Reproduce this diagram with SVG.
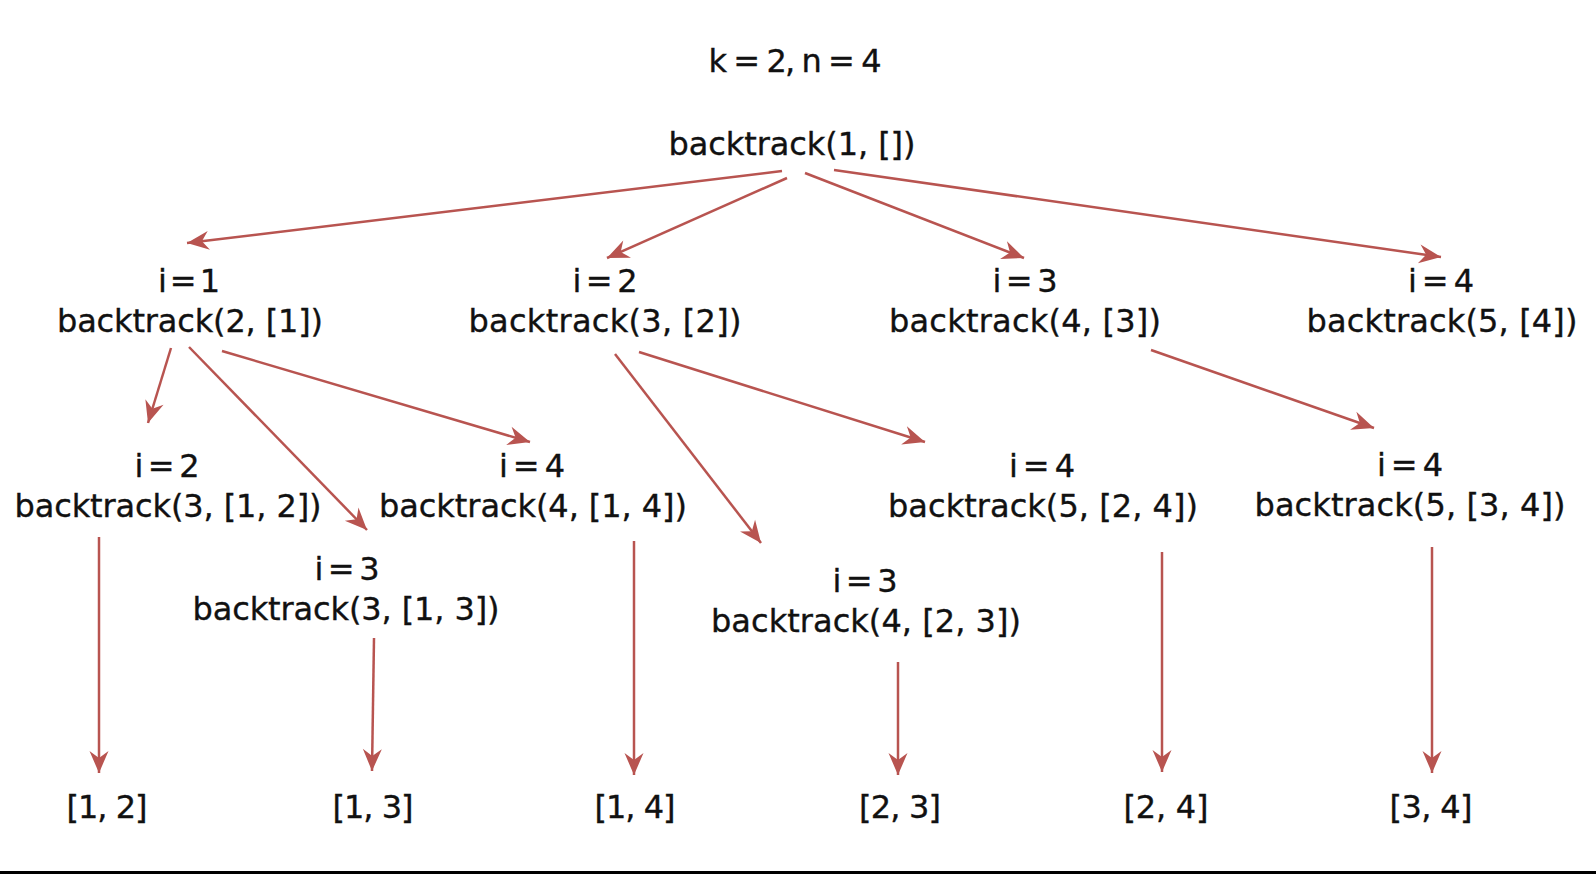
<svg xmlns="http://www.w3.org/2000/svg" width="1596" height="874" viewBox="0 0 1596 874">
<style>
  text { font-family: "DejaVu Sans", "Noto Sans", sans-serif; font-size: 32px; fill: #111; stroke: #111; stroke-width: 0.35; text-anchor: middle; }
  .edge { stroke: #b85450; stroke-width: 2.5; fill: none; marker-end: url(#arrow); }
</style>
<defs>
  <marker id="arrow" markerUnits="userSpaceOnUse" markerWidth="24" markerHeight="22" refX="22" refY="11" orient="auto" overflow="visible">
    <path d="M0,1.5 L22,11 L0,20.5 L7,11 Z" fill="#b85450" stroke="none"/>
  </marker>
</defs>
<rect x="0" y="0" width="1596" height="874" fill="#ffffff"/>
<rect x="0" y="871" width="1596" height="3" fill="#000000"/>

<g id="title"><text x="795" y="72" textLength="173" lengthAdjust="spacing">k = 2, n = 4</text></g>
<g id="root"><text x="792" y="155" textLength="247" lengthAdjust="spacing">backtrack(1, [])</text></g>

<g id="n1">
  <text x="189" y="292" textLength="62" lengthAdjust="spacing">i = 1</text>
  <text x="190" y="332" textLength="266" lengthAdjust="spacing">backtrack(2, [1])</text>
</g>
<g id="n2">
  <text x="605" y="292" textLength="65" lengthAdjust="spacing">i = 2</text>
  <text x="605" y="332" textLength="273" lengthAdjust="spacing">backtrack(3, [2])</text>
</g>
<g id="n3">
  <text x="1025" y="292" textLength="65" lengthAdjust="spacing">i = 3</text>
  <text x="1025" y="332" textLength="272" lengthAdjust="spacing">backtrack(4, [3])</text>
</g>
<g id="n4">
  <text x="1441" y="292" textLength="66" lengthAdjust="spacing">i = 4</text>
  <text x="1442" y="332" textLength="271" lengthAdjust="spacing">backtrack(5, [4])</text>
</g>

<g id="n5">
  <text x="167" y="477" textLength="65" lengthAdjust="spacing">i = 2</text>
  <text x="168" y="517" textLength="307" lengthAdjust="spacing">backtrack(3, [1, 2])</text>
</g>
<g id="n6">
  <text x="347" y="580" textLength="65" lengthAdjust="spacing">i = 3</text>
  <text x="346" y="620" textLength="307" lengthAdjust="spacing">backtrack(3, [1, 3])</text>
</g>
<g id="n7">
  <text x="532" y="477" textLength="66" lengthAdjust="spacing">i = 4</text>
  <text x="533" y="517" textLength="308" lengthAdjust="spacing">backtrack(4, [1, 4])</text>
</g>
<g id="n8">
  <text x="865" y="592" textLength="65" lengthAdjust="spacing">i = 3</text>
  <text x="866" y="632" textLength="310" lengthAdjust="spacing">backtrack(4, [2, 3])</text>
</g>
<g id="n9">
  <text x="1042" y="477" textLength="66" lengthAdjust="spacing">i = 4</text>
  <text x="1043" y="517" textLength="310" lengthAdjust="spacing">backtrack(5, [2, 4])</text>
</g>
<g id="n10">
  <text x="1410" y="476" textLength="66" lengthAdjust="spacing">i = 4</text>
  <text x="1410" y="516" textLength="311" lengthAdjust="spacing">backtrack(5, [3, 4])</text>
</g>

<g id="leaf1"><text x="107" y="818" textLength="81" lengthAdjust="spacing">[1, 2]</text></g>
<g id="leaf2"><text x="373" y="818" textLength="81" lengthAdjust="spacing">[1, 3]</text></g>
<g id="leaf3"><text x="635" y="818" textLength="81" lengthAdjust="spacing">[1, 4]</text></g>
<g id="leaf4"><text x="900" y="818" textLength="82" lengthAdjust="spacing">[2, 3]</text></g>
<g id="leaf5"><text x="1166" y="818" textLength="85" lengthAdjust="spacing">[2, 4]</text></g>
<g id="leaf6"><text x="1431" y="818" textLength="83" lengthAdjust="spacing">[3, 4]</text></g>

<g id="connectors">
  <line class="edge" x1="782" y1="171" x2="187" y2="243"/>
  <line class="edge" x1="787" y1="178" x2="607" y2="258"/>
  <line class="edge" x1="805" y1="173" x2="1024" y2="258"/>
  <line class="edge" x1="834" y1="170" x2="1441" y2="257"/>
  <line class="edge" x1="171" y1="348" x2="148" y2="423"/>
  <line class="edge" x1="189" y1="347" x2="367" y2="530"/>
  <line class="edge" x1="222" y1="351" x2="530" y2="442"/>
  <line class="edge" x1="615" y1="354" x2="761" y2="543"/>
  <line class="edge" x1="639" y1="352" x2="925" y2="442"/>
  <line class="edge" x1="1151" y1="350" x2="1374" y2="428"/>
  <line class="edge" x1="99" y1="537" x2="99" y2="773"/>
  <line class="edge" x1="374" y1="638" x2="372" y2="771"/>
  <line class="edge" x1="634" y1="541" x2="634" y2="775"/>
  <line class="edge" x1="898" y1="662" x2="898" y2="775"/>
  <line class="edge" x1="1162" y1="552" x2="1162" y2="772"/>
  <line class="edge" x1="1432" y1="547" x2="1432" y2="773"/>
</g>
</svg>
